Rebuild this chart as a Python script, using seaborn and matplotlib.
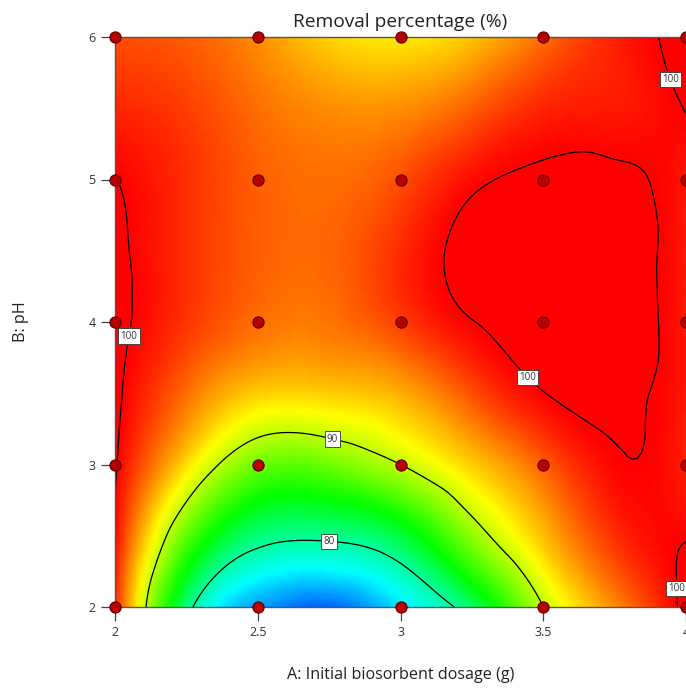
import numpy as np
import matplotlib
matplotlib.use("Agg")
import matplotlib.pyplot as plt
import matplotlib.tri as mtri
from matplotlib.colors import LinearSegmentedColormap, Normalize
import seaborn as sns
import pandas as pd

# ---- data ----
dosage = [2.0, 2.25, 2.5, 2.75, 3.0, 3.25, 3.5, 3.75, 4.0]
ph = [2.0, 2.5, 3.0, 3.5, 4.0, 4.5, 5.0, 5.5, 6.0]
removal_ph2_0 = [99.0, 81.0, 75.5, 74.2, 77.0, 81.5, 90.0, 95.5, 100.6]
removal_ph2_5 = [99.75, 87.0, 81.0, 80.5, 82.5, 88.5, 94.0, 98.5, 99.9]
removal_ph3_0 = [100.2, 93.0, 87.5, 87.5, 90.0, 93.5, 97.0, 99.8, 99.0]
removal_ph3_5 = [100.4, 96.5, 93.5, 93.5, 94.5, 97.5, 99.95, 100.4, 99.2]
removal_ph4_0 = [100.5, 98.3, 96.5, 96.3, 98.0, 99.95, 100.6, 100.7, 99.2]
removal_ph4_5 = [100.4, 98.5, 97.0, 96.8, 98.6, 100.5, 100.6, 100.7, 99.2]
removal_ph5_0 = [100.05, 98.5, 97.0, 96.5, 97.5, 99.6, 100.3, 100.35, 99.3]
removal_ph5_5 = [98.8, 98.0, 96.5, 95.5, 95.5, 97.0, 98.8, 99.2, 100.05]
removal_ph6_0 = [97.5, 97.0, 95.5, 93.3, 92.6, 93.8, 96.5, 99.0, 100.5]

design_dosage_levels = [2.0, 2.5, 3.0, 3.5, 4.0]
design_ph_levels = [2, 3, 4, 5, 6]
contour_levels = [80, 90, 100]
label_positions = [(2.77, 3.24), (2.75, 2.49), (2.05, 3.9), (3.45, 3.62),
                   (3.94, 5.70), (3.965, 2.13)]
xtick_values = [2, 2.5, 3, 3.5, 4]
xtick_labels = ["2", "2.5", "3", "3.5", "4"]
ytick_values = [2, 3, 4, 5, 6]
ytick_labels = ["2", "3", "4", "5", "6"]

# colour scale (Design-Expert style)
cmap_values = [72.0, 77.5, 84.0, 92.0, 100.0, 100.8]
cmap_colors = ["#0000ff", "#00ffff", "#00ff00", "#ffff00", "#ff0000", "#ff0000"]

# ---- build surface ----
Z = np.array([removal_ph2_0, removal_ph2_5, removal_ph3_0, removal_ph3_5,
              removal_ph4_0, removal_ph4_5, removal_ph5_0, removal_ph5_5,
              removal_ph6_0])
X, Y = np.meshgrid(dosage, ph)
xmin, xmax, ymin, ymax = 2.0, 4.0, 2.0, 6.0
U = (X - xmin) / (xmax - xmin)
V = (Y - ymin) / (ymax - ymin)
tri_n = mtri.Triangulation(U.ravel(), V.ravel())
interp = mtri.CubicTriInterpolator(tri_n, Z.ravel(), kind="min_E")
refiner = mtri.UniformTriRefiner(tri_n)
tri_f, z_f = refiner.refine_field(Z.ravel(), triinterpolator=interp, subdiv=4)
tri_plot = mtri.Triangulation(tri_f.x * (xmax - xmin) + xmin,
                              tri_f.y * (ymax - ymin) + ymin,
                              tri_f.triangles)

vmin, vmax = cmap_values[0], cmap_values[-1]
nodes = [(v - vmin) / (vmax - vmin) for v in cmap_values]
cmap = LinearSegmentedColormap.from_list("de", list(zip(nodes, cmap_colors)))
norm = Normalize(vmin=vmin, vmax=vmax)

# ---- figure ----
sns.set_style("white")
plt.rcParams["font.family"] = ["Open Sans", "DejaVu Sans"]

W, H = 686, 690
fig = plt.figure(figsize=(W / 100, H / 100), dpi=100)
ax = fig.add_axes([115 / W, (H - 607) / H, (686 - 115) / W, (607 - 37) / H])

ax.tripcolor(tri_plot, z_f, shading="gouraud", cmap=cmap, norm=norm)
cs = ax.tricontour(tri_plot, z_f, levels=contour_levels, colors="black",
                   linewidths=0.9)
labels = ax.clabel(cs, fmt="%d", manual=label_positions, inline=True,
                   inline_spacing=1, fontsize=7)
for t in labels:
    t.set_rotation(0)
    t.set_color("#333333")
    t.set_bbox(dict(facecolor="white", edgecolor="#333333", linewidth=0.6,
                    pad=1.6))

pts = pd.DataFrame([(a, b) for b in design_ph_levels for a in design_dosage_levels],
                   columns=["dosage", "ph"])
sns.scatterplot(data=pts, x="dosage", y="ph", ax=ax, s=65,
                color="#b80000", edgecolor="#5a0000", linewidth=0.8,
                zorder=5, clip_on=False, legend=False)

ax.set_xlim(xmin, xmax)
ax.set_ylim(ymin, ymax)
ax.set_xticks(xtick_values)
ax.set_xticklabels(xtick_labels)
ax.set_yticks(ytick_values)
ax.set_yticklabels(ytick_labels)
ax.tick_params(axis="both", direction="out", length=10, width=0.9,
               color="#444444", labelsize=9, labelcolor="#333333", pad=4)
ax.tick_params(axis="x", bottom=True)
ax.tick_params(axis="y", left=True)
for sp in ax.spines.values():
    sp.set_color("#555555")
    sp.set_linewidth(1.0)

ax.set_title("Removal percentage (%)", fontsize=13.8, color="#222222", pad=7)
ax.set_xlabel("A: Initial biosorbent dosage (g)", fontsize=11.6, color="#222222")
ax.set_ylabel("B: pH", fontsize=11.6, color="#222222")
ax.xaxis.set_label_coords(0.5, (607 - 667) / 570)
ax.yaxis.set_label_coords((29 - 115) / 571, 0.5)

fig.savefig("out.png", dpi=100)
